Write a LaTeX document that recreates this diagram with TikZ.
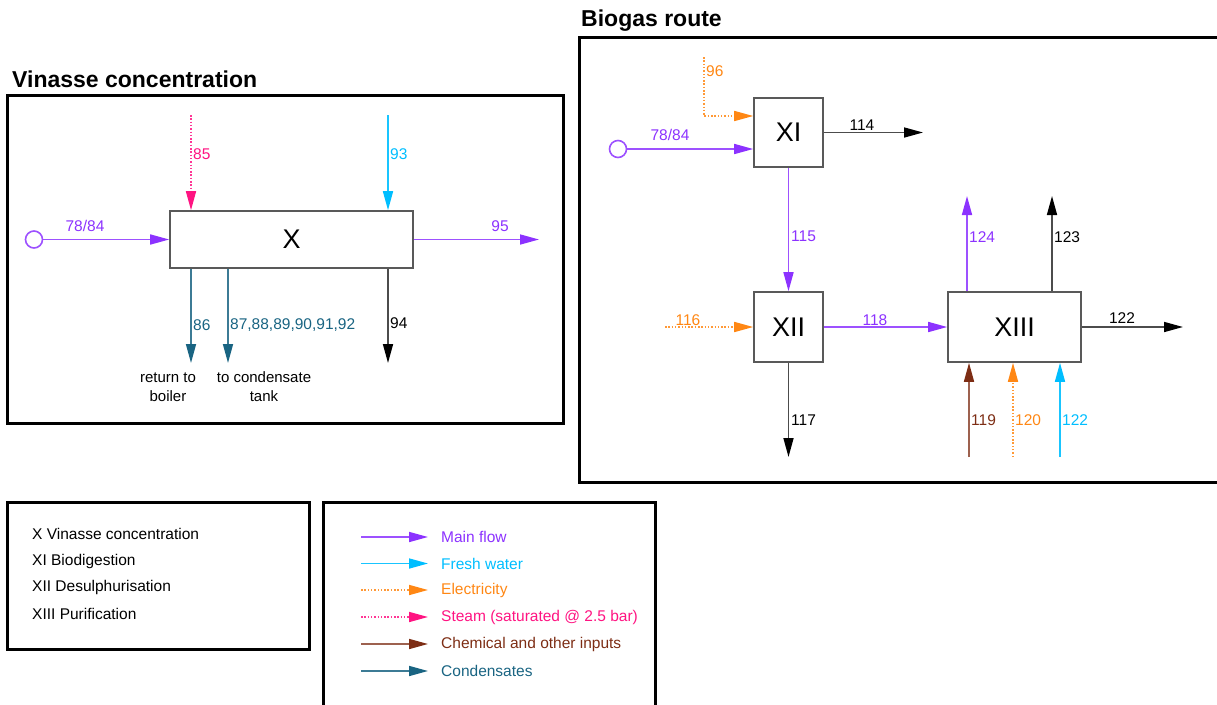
\documentclass[tikz,border=0pt]{standalone}
\usepackage{fontspec}
\setmainfont{Liberation Sans}
\usetikzlibrary{arrows.meta}
\definecolor{cMain}{RGB}{140,50,255}
\definecolor{cWater}{RGB}{0,190,255}
\definecolor{cElec}{RGB}{255,135,20}
\definecolor{cSteam}{RGB}{255,20,130}
\definecolor{cChem}{RGB}{125,45,20}
\definecolor{cCond}{RGB}{25,100,130}
\begin{document}
\begin{tikzpicture}[x=1pt,y=-1pt,
  panel/.style={draw=black,line width=3pt},
  title/.style={font=\bfseries\fontsize{23}{26}\selectfont,inner sep=0pt,anchor=west},
  unit/.style={draw=black!65,line width=1.6pt,fill=white,inner sep=0pt,
    font=\fontsize{27}{30}\selectfont},
  lab/.style={font=\fontsize{15.5}{18}\selectfont,inner sep=0pt},
  note/.style={font=\fontsize{15}{19}\selectfont,inner sep=0pt,align=center},
  legtext/.style={font=\fontsize{15.5}{18}\selectfont,inner sep=0pt,anchor=west},
  flowtip/.style={-{Triangle[length=19pt,width=10pt,color=#1]}},
  flow/.style={line width=1.6pt},
  mainflow/.style={flow,draw=cMain!85,flowtip=cMain},
  waterflow/.style={flow,draw=cWater!90,flowtip=cWater},
  elecflow/.style={flow,draw=cElec!85,dash pattern=on 1.5pt off 1.8pt,flowtip=cElec},
  steamflow/.style={flow,draw=cSteam!85,dash pattern=on 1.5pt off 1.8pt,flowtip=cSteam},
  chemflow/.style={flow,draw=cChem!75,flowtip=cChem},
  condflow/.style={flow,draw=cCond!85,flowtip=cCond},
  outflow/.style={flow,draw=black!70,flowtip=black},
  source/.style={circle,draw=cMain!85,line width=1.6pt,minimum size=17pt,inner sep=0pt}
]
\useasboundingbox (0,0) rectangle (1217,704);
\clip (0,0) rectangle (1217,704);

% ---------- Vinasse concentration ----------
\draw[panel] (7,95) rectangle (563,423);
\node[title] (t1) at (12,79) {Vinasse concentration};

\node[unit,minimum width=243pt,minimum height=57pt] (X) at (291.5,239.5) {X};

\node[source] (c1) at (34,239.5) {};
\draw[mainflow] (c1) -- (X.west);
\node[lab,text=cMain] (l7884a) at (85,226) {78/84};

\coordinate (o95) at (539,239.5);
\draw[mainflow] (X.east) -- (o95);
\node[lab,text=cMain] (l95) at (500,226) {95};

\coordinate (s85) at (191,115);
\draw[steamflow] (s85) -- (s85 |- X.north);
\node[lab,text=cSteam,anchor=west] (l85) at (193,154) {85};

\coordinate (w93) at (388,115);
\draw[waterflow] (w93) -- (w93 |- X.north);
\node[lab,text=cWater,anchor=west] (l93) at (390,154) {93};

\coordinate (e86) at (191,363);
\draw[condflow] (e86 |- X.south) -- (e86);
\node[lab,text=cCond,anchor=west] (l86) at (193,325) {86};

\coordinate (e87) at (228,363);
\draw[condflow] (e87 |- X.south) -- (e87);
\node[lab,text=cCond,anchor=west] (l87) at (230,325) {87,88,89,90,91,92};

\coordinate (e94) at (388,363);
\draw[outflow] (e94 |- X.south) -- (e94);
\node[lab,anchor=west] (l94) at (390,323) {94};

\node[note] (n86) at (168,387) {return to\\boiler};
\node[note] (n87) at (264,387) {to condensate\\tank};

% ---------- Biogas route ----------
\draw[panel] (579,37) rectangle (1235,482);
\node[title] (t2) at (581,21) {Biogas route};

\node[unit,minimum width=69pt,minimum height=69pt] (XI) at (788.5,132.5) {XI};
\node[unit,minimum width=69pt,minimum height=70pt] (XII) at (788.5,327) {XII};
\node[unit,minimum width=133pt,minimum height=70pt] (XIII) at (1014.5,327) {XIII};

\coordinate (e96) at (704,57);
\draw[elecflow] (e96) |- ([yshift=16.5pt]XI.west);
\node[lab,text=cElec,anchor=west] (l96) at (706,71) {96};

\node[source] (c2) at (618,149) {};
\draw[mainflow] (c2) -- (c2 -| XI.west);
\node[lab,text=cMain] (l7884b) at (670,135) {78/84};

\coordinate (o114) at (923,132.5);
\draw[outflow] (XI.east) -- (o114);
\node[lab] (l114) at (862,125) {114};

\draw[mainflow] (XI.south) -- (XII.north);
\node[lab,text=cMain,anchor=west] (l115) at (791,236) {115};

\coordinate (e116) at (665,327);
\draw[elecflow] (e116) -- (XII.west);
\node[lab,text=cElec] (l116) at (688,320) {116};

\coordinate (o117) at (788.5,457);
\draw[outflow] (XII.south) -- (o117);
\node[lab,anchor=west] (l117) at (791,420) {117};

\draw[mainflow] (XII.east) -- (XIII.west);
\node[lab,text=cMain] (l118) at (875,320) {118};

\coordinate (o122) at (1183,327);
\draw[outflow] (XIII.east) -- (o122);
\node[lab] (l122a) at (1122,318) {122};

\coordinate (o124) at (967,196);
\draw[mainflow] (o124 |- XIII.north) -- (o124);
\node[lab,text=cMain,anchor=west] (l124) at (969,237) {124};

\coordinate (o123) at (1052,196);
\draw[outflow] (o123 |- XIII.north) -- (o123);
\node[lab,anchor=west] (l123) at (1054,237) {123};

\coordinate (i119) at (969,457);
\draw[chemflow] (i119) -- (i119 |- XIII.south);
\node[lab,text=cChem,anchor=west] (l119) at (971,420) {119};

\coordinate (i120) at (1013,457);
\draw[elecflow] (i120) -- (i120 |- XIII.south);
\node[lab,text=cElec,anchor=west] (l120) at (1015,420) {120};

\coordinate (i122) at (1060,457);
\draw[waterflow] (i122) -- (i122 |- XIII.south);
\node[lab,text=cWater,anchor=west] (l122b) at (1062,420) {122};

% ---------- Unit key ----------
\draw[panel] (7,502) rectangle (309,649);
\node[legtext] (k1) at (32,534) {X Vinasse concentration};
\node[legtext] (k2) at (32,561) {XI Biodigestion};
\node[legtext] (k3) at (32,587) {XII Desulphurisation};
\node[legtext] (k4) at (32,614) {XIII Purification};

% ---------- Stream key ----------
\draw[panel] (323,502) rectangle (655,720);
\foreach \yy/\sty/\col/\txt [count=\i] in {
  537/mainflow/cMain/Main flow,
  563.5/waterflow/cWater/Fresh water,
  590/elecflow/cElec/Electricity,
  617/steamflow/cSteam/Steam (saturated @ 2.5 bar),
  644/chemflow/cChem/Chemical and other inputs,
  671/condflow/cCond/Condensates}{
  \coordinate (ks\i) at (361,\yy);
  \coordinate (ke\i) at (428,\yy);
  \draw[\sty] (ks\i) -- (ke\i);
  \node[legtext,text=\col] (kt\i) at (441,\yy) {\txt};
}
\end{tikzpicture}
\end{document}
